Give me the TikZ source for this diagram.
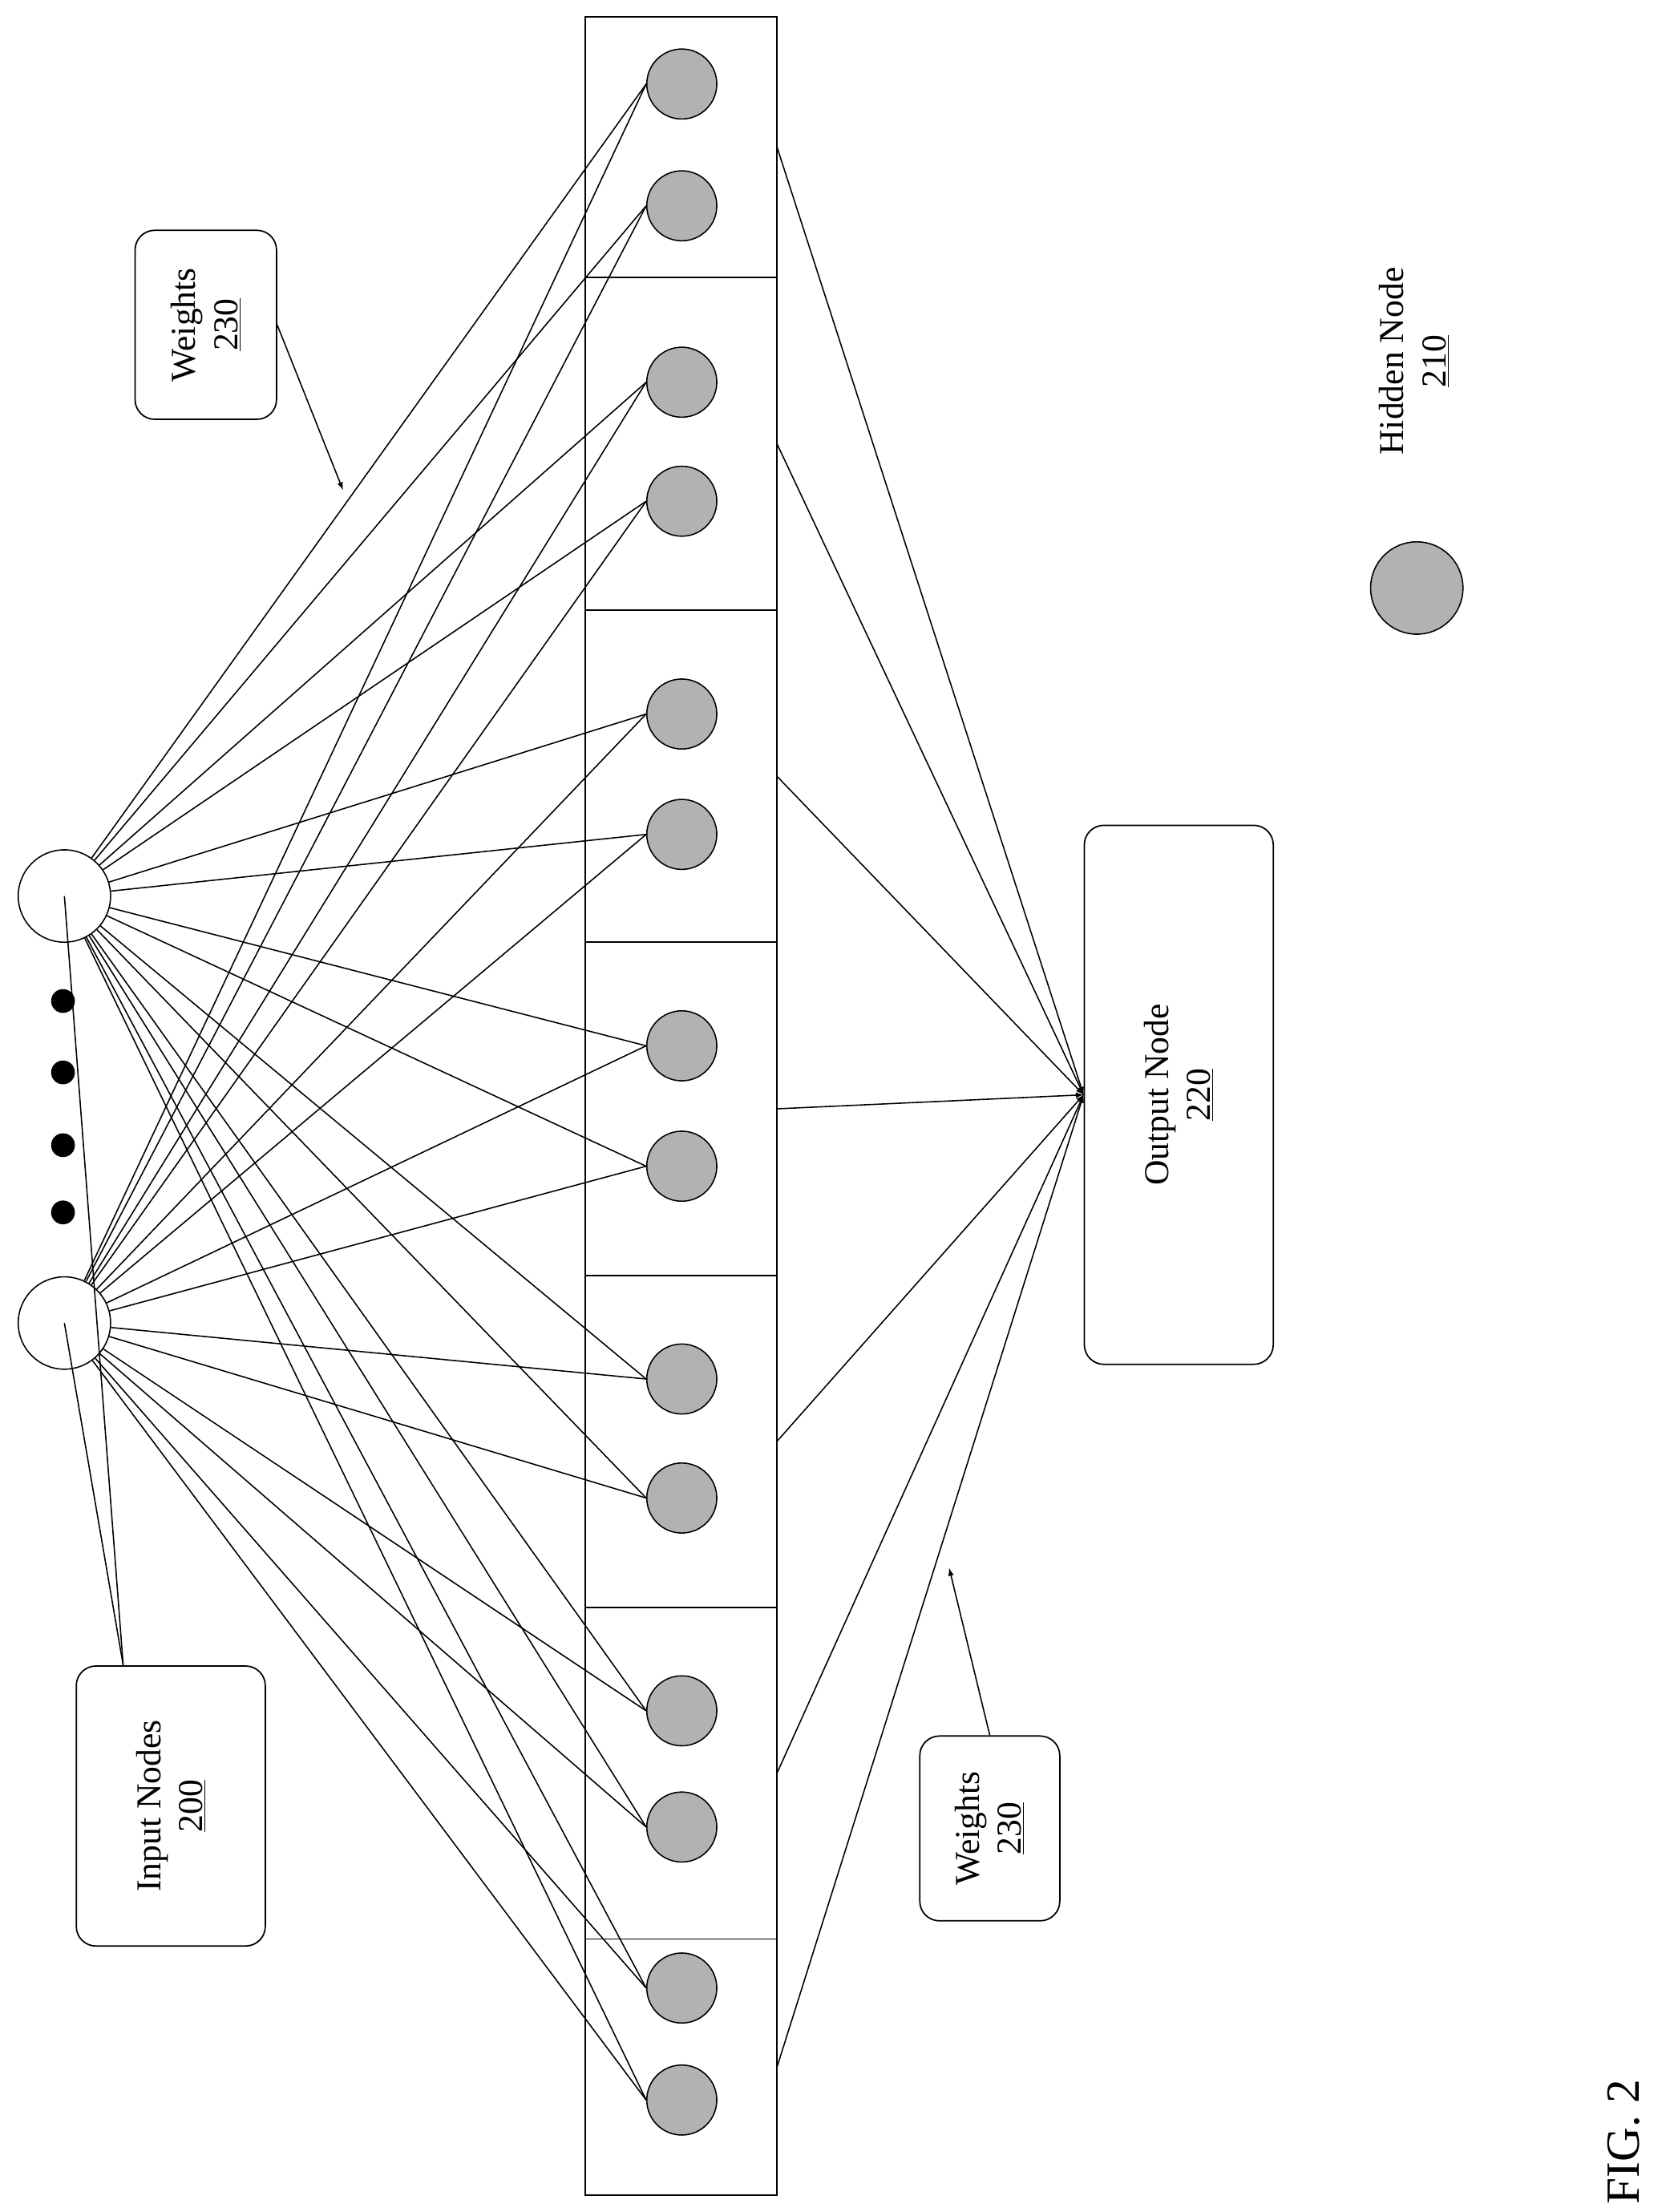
\documentclass[tikz,border=0pt]{standalone}
\usepackage{fontspec}
\setmainfont{Liberation Serif}
\begin{document}
\begin{tikzpicture}[x=1pt,y=-1pt,
  hid/.style={circle,draw,fill=gray!60,minimum size=50pt,inner sep=0,line width=0.9pt},
  inp/.style={circle,draw,fill=white,minimum size=66pt,inner sep=0,line width=0.9pt},
  dot/.style={circle,fill=black,minimum size=17pt,inner sep=0},
  lbl/.style={draw,line width=1pt,rounded corners=14pt,align=center,font=\fontsize{25}{30}\selectfont,rotate=90},
  cell/.style={draw,line width=1pt},
  wire/.style={line width=0.9pt}]
\useasboundingbox (0,0) rectangle (1190,1580);
\foreach \a/\b [count=\i] in {12/198,198/436,436/673,673/911,911/1148,1148/1385,1385/1568}
  \draw[cell] (418,\a) rectangle (555,\b);
\foreach \a/\b [count=\i] in {12/198,198/436,436/673,673/911,911/1148,1148/1385,1385/1568}
  \coordinate (c\i) at (555,{(\a+\b)/2});
\foreach \y [count=\i] in {60,147,273,358,510,596,747,833,985,1070,1222,1305,1420,1500}
  \node[hid] (h\i) at (487,\y) {};
\node[inp] (in1) at (46,640) {};
\node[inp] (in2) at (46,945) {};
\foreach \y [count=\i] in {715,766,818,866} \node[dot] (d\i) at (45,\y) {};
\foreach \i in {1,...,14} {
  \draw[wire] (in1) -- (h\i.west);
  \draw[wire] (in2) -- (h\i.west);
}
\node[lbl,minimum width=385pt,minimum height=135pt] (out) at (842,782) {Output Node\\\underline{220}};
\foreach \i in {1,...,7} \draw[wire,-latex] (c\i) -- (out.north);
\node[lbl,minimum width=135pt,minimum height=101pt] (w1) at (147,232) {Weights\\\underline{230}};
\coordinate (w1t) at (245,350);
\draw[wire,-latex] (w1.south) -- (w1t);
\node[lbl,minimum width=132pt,minimum height=100pt] (w2) at (707,1306) {Weights\\\underline{230}};
\coordinate (w2t) at (678,1120);
\draw[wire,-latex] (w2.east) -- (w2t);
\node[lbl,minimum width=200pt,minimum height=135pt] (inl) at (122,1290) {Input Nodes\\\underline{200}};
\path (inl.east) ++(-34,0) coordinate (ia);
\draw[wire] (ia) -- (in1.center);
\draw[wire] (ia) -- (in2.center);
\node[hid,minimum size=66pt] (leg) at (1012,420) {};
\node[font=\fontsize{25}{30}\selectfont,rotate=90,align=center] (legt) at (1010,258) {Hidden Node\\\underline{210}};
\node[font=\fontsize{34}{40}\selectfont,rotate=90] (fig) at (1160,1530) {FIG. 2};
\end{tikzpicture}
\end{document}
